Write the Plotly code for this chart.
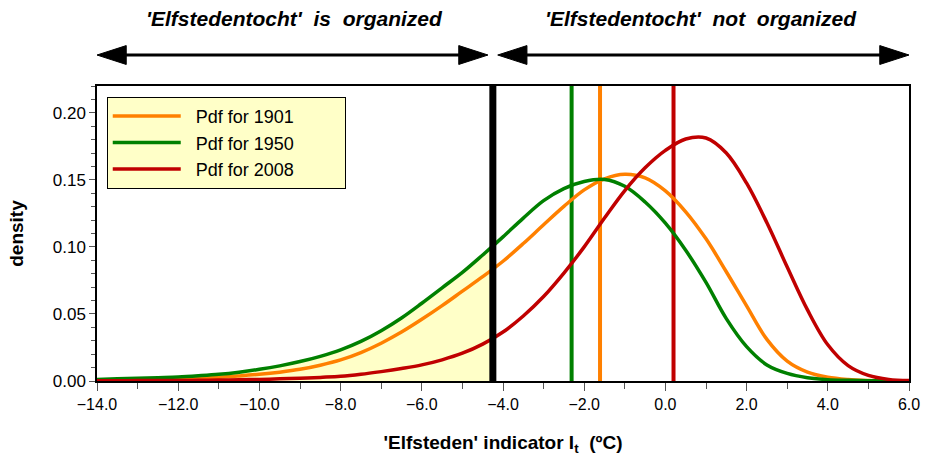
import plotly.graph_objects as go

# Data
x_vals = [-14.0, -13.5, -13.0, -12.5, -12.0, -11.5, -11.0, -10.5, -10.0, -9.5, -9.0, -8.5,
          -8.0, -7.5, -7.0, -6.5, -6.0, -5.5, -5.0, -4.5, -4.0, -3.5, -3.0, -2.5, -2.0,
          -1.5, -1.0, -0.5, 0.0, 0.5, 1.0, 1.5, 2.0, 2.5, 3.0, 3.5, 4.0, 4.5, 5.0, 5.5, 6.0]
pdf_1901 = [0.0005, 0.0007, 0.0010, 0.0013, 0.0017, 0.0022, 0.0028, 0.0038, 0.0050, 0.0066,
            0.0087, 0.0118, 0.0157, 0.0212, 0.0282, 0.0365, 0.0460, 0.0562, 0.0670, 0.0778,
            0.0893, 0.1025, 0.1165, 0.1302, 0.1425, 0.1508, 0.1542, 0.1515, 0.1418, 0.1262,
            0.1060, 0.0815, 0.0560, 0.0310, 0.0148, 0.0066, 0.0028, 0.0011, 0.0004, 0.0001,
            0.0]
pdf_1950 = [0.0012, 0.0016, 0.0020, 0.0025, 0.0030, 0.0039, 0.0050, 0.0066, 0.0087, 0.0113,
            0.0145, 0.0184, 0.0232, 0.0295, 0.0375, 0.0470, 0.0580, 0.0695, 0.0810, 0.0940,
            0.1075, 0.1215, 0.1345, 0.1435, 0.1488, 0.1503, 0.1452, 0.1335, 0.1177, 0.0975,
            0.0735, 0.0465, 0.0256, 0.0120, 0.0057, 0.0025, 0.0010, 0.0005, 0.0002, 0.0001,
            0.0]
pdf_2008 = [0.0002, 0.0002, 0.0003, 0.0003, 0.0004, 0.0005, 0.0007, 0.0009, 0.0012, 0.0016,
            0.0020, 0.0027, 0.0035, 0.0050, 0.0070, 0.0093, 0.0120, 0.0158, 0.0207, 0.0275,
            0.0365, 0.0485, 0.0630, 0.0805, 0.1000, 0.1215, 0.1420, 0.1590, 0.1720, 0.1805,
            0.1812, 0.1700, 0.1475, 0.1180, 0.0850, 0.0530, 0.0270, 0.0115, 0.0042, 0.0012,
            0.0003]

threshold = -4.25
pdf_1950_at_threshold = 0.101
mean_1901 = -1.61
mean_1950 = -2.31
mean_2008 = 0.20
y_top = 0.22

ORANGE = "#FF8000"
GREEN = "#008000"
RED = "#C00000"
FONT = "Liberation Sans, Arial, sans-serif"
PRE = "\u00a0" * 2
NB = "\u00a0" * 9

fig = go.Figure()

# shaded area (organized) under the 1950 pdf
fx = [x for x in x_vals if x <= threshold] + [threshold]
fy = [pdf_1950[i] for i, x in enumerate(x_vals) if x <= threshold] + [pdf_1950_at_threshold]
fig.add_trace(go.Scatter(x=fx, y=fy, mode="lines", line=dict(width=0, shape="spline"),
                         fill="tozeroy", fillcolor="#FFFFC8", showlegend=False,
                         hoverinfo="skip"))

# vertical lines
for v, c in [(mean_1950, GREEN), (mean_1901, ORANGE), (mean_2008, RED)]:
    fig.add_trace(go.Scatter(x=[v, v], y=[0, y_top], mode="lines",
                             line=dict(color=c, width=4), showlegend=False))

# pdf curves
for name, ys, c in [("Pdf for 1901", pdf_1901, ORANGE),
                    ("Pdf for 1950", pdf_1950, GREEN),
                    ("Pdf for 2008", pdf_2008, RED)]:
    fig.add_trace(go.Scatter(x=x_vals, y=ys, mode="lines", name=PRE + name + NB,
                             line=dict(color=c, width=3.5, shape="spline", smoothing=1.0)))

# threshold line
fig.add_trace(go.Scatter(x=[threshold, threshold], y=[0, y_top], mode="lines",
                         line=dict(color="black", width=7), showlegend=False))

# arrows above the plot
shapes = []
arrow_y = 1.105
head_h = 0.032
head_w = 0.72
for x0, x1 in [(-14.0, threshold - 0.12), (threshold + 0.12, 6.0)]:
    shapes.append(dict(type="line", xref="x", yref="paper", x0=x0 + head_w * 0.8,
                       x1=x1 - head_w * 0.8, y0=arrow_y, y1=arrow_y,
                       line=dict(color="black", width=3)))
    shapes.append(dict(type="path", xref="x", yref="paper",
                       path=f"M {x0},{arrow_y} L {x0 + head_w},{arrow_y + head_h} "
                            f"L {x0 + head_w},{arrow_y - head_h} Z",
                       fillcolor="black", line=dict(color="black", width=1)))
    shapes.append(dict(type="path", xref="x", yref="paper",
                       path=f"M {x1},{arrow_y} L {x1 - head_w},{arrow_y + head_h} "
                            f"L {x1 - head_w},{arrow_y - head_h} Z",
                       fillcolor="black", line=dict(color="black", width=1)))

annotations = [
    dict(text="<b><i>'Elfstedentocht'  is  organized</i></b>", x=(-14 + threshold) / 2,
         y=1.23, xref="x", yref="paper", yanchor="middle", showarrow=False,
         font=dict(size=21, family=FONT, color="black")),
    dict(text="<b><i>'Elfstedentocht'  not  organized</i></b>", x=(threshold + 6) / 2,
         y=1.23, xref="x", yref="paper", yanchor="middle", showarrow=False,
         font=dict(size=21, family=FONT, color="black")),
]

fig.update_layout(
    width=928, height=459,
    margin=dict(l=97, r=19, t=86, b=78),
    paper_bgcolor="white", plot_bgcolor="white",
    font=dict(family=FONT, size=16, color="black"),
    shapes=shapes, annotations=annotations,
    legend=dict(x=0.012, y=0.963, xanchor="left", yanchor="top",
                bgcolor="#FFFFC8", bordercolor="black", borderwidth=1,
                font=dict(size=18, family=FONT), itemwidth=68, tracegroupgap=0),
)
fig.update_xaxes(range=[-14, 6], dtick=2, tick0=-14, tickformat=".1f", automargin=False,
                 showgrid=False, zeroline=False, showline=True, linecolor="black",
                 linewidth=1.5, mirror=True, ticks="outside", ticklen=8, tickcolor="#555",
                 minor=dict(dtick=1, ticks="outside", ticklen=6, tickcolor="#555"),
                 tickfont=dict(size=16),
                 title=dict(text="<b>'Elfsteden' indicator I<sub>t</sub>  (ºC)</b>",
                            font=dict(size=19), standoff=24))
fig.update_yaxes(range=[0, y_top], dtick=0.05, tickformat=".2f", automargin=False,
                 showgrid=False, zeroline=False, showline=True, linecolor="black",
                 linewidth=1.5, mirror=True, ticks="outside", ticklen=6, tickcolor="#555",
                 minor=dict(dtick=0.01, ticks="outside", ticklen=4, tickcolor="#555"),
                 tickfont=dict(size=17),
                 title=dict(text="<b>density</b>", font=dict(size=19), standoff=24))

fig.write_html("out.html")
